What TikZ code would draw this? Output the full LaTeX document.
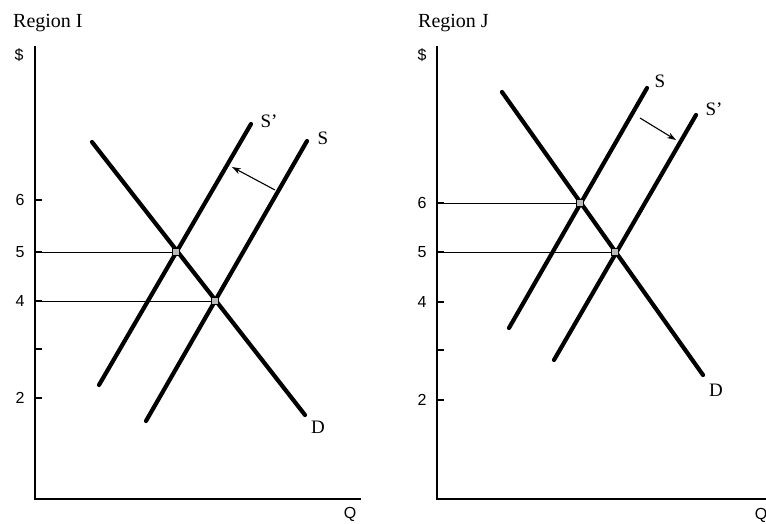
\documentclass[tikz,border=0pt]{standalone}
\usepackage{fontspec}
\usetikzlibrary{arrows.meta}
\setmainfont{Liberation Serif}
\newfontfamily\axfont{Liberation Sans}
\begin{document}
\begin{tikzpicture}[x=1pt,y=-1pt,
  curve/.style={line width=4.2pt,line cap=round},
  axis/.style={line width=1.8pt},
  guide/.style={line width=1pt},
  tickmark/.style={line width=1.3pt},
  shiftarrow/.style={line width=1.1pt,-{Stealth[length=9pt,width=6pt]}},
  mk/.style={draw=black,line width=0.6pt,fill=gray!55,minimum size=7pt,inner sep=0pt},
  lbl/.style={font=\fontsize{19}{21}\selectfont,inner sep=0pt},
  num/.style={font=\axfont\fontsize{16}{18}\selectfont,inner sep=0pt},
  ttl/.style={font=\fontsize{20}{22}\selectfont,inner sep=0pt,anchor=west}]
\useasboundingbox (0,0) rectangle (766,524);
\fill[white] (0,0) rectangle (766,524);
% ---------------- Region I ----------------
\node[ttl] (tI) at (13,23) {Region I};
\node[num] (dI) at (19,55) {\$};
\coordinate (yIt) at (35,46);
\coordinate (o1) at (35,499);
\coordinate (xIe) at (361,499);
\draw[axis] (yIt) -- (o1) -- (xIe);
\node[num] (qI) at (350,514) {Q};
\foreach \v/\y in {6/200,5/252,4/301,2/398}{
  \draw[tickmark] (35,\y) -- (42,\y);
  \node[num] at (20,\y) {\v};}
\draw[tickmark] (35,349) -- (42,349);
% equilibria
\coordinate (eIa) at (176,252);
\coordinate (eIb) at (215,301);
\draw[guide] (35,252) -- (eIa);
\draw[guide] (35,301) -- (eIb);
% curves
\coordinate (DIa) at (92,142); \coordinate (DIb) at (305,415);
\coordinate (SpIa) at (99,385); \coordinate (SpIb) at (251,124);
\coordinate (SIa) at (146,421); \coordinate (SIb) at (307,141);
\draw[curve] (DIa) -- (DIb);
\draw[curve] (SpIa) -- (SpIb);
\draw[curve] (SIa) -- (SIb);
\node[mk] at (eIa) {};
\node[mk] at (eIb) {};
\node[lbl] (lDI) at (318,427) {D};
\node[lbl] (lSpI) at (269,121) {S'};
\node[lbl] (lSI) at (323,138) {S};
\coordinate (aI1) at (275,190); \coordinate (aI2) at (232,167);
\draw[shiftarrow] (aI1) -- (aI2);
% ---------------- Region J ----------------
\node[ttl] (tJ) at (418,23) {Region J};
\node[num] (dJ) at (422,55) {\$};
\coordinate (yJt) at (437,46);
\coordinate (o2) at (437,499);
\coordinate (xJe) at (770,499);
\draw[axis] (yJt) -- (o2) -- (xJe);
\node[num] (qJ) at (761,515) {Q};
\foreach \v/\y in {6/203,5/252,4/302,2/400}{
  \draw[tickmark] (437,\y) -- (444,\y);
  \node[num] at (422,\y) {\v};}
\draw[tickmark] (437,350) -- (444,350);
\coordinate (eJa) at (580,203);
\coordinate (eJb) at (615,252);
\draw[guide] (437,203) -- (eJa);
\draw[guide] (437,252) -- (eJb);
\coordinate (DJa) at (502,92); \coordinate (DJb) at (703,375);
\coordinate (SJa) at (509,328); \coordinate (SJb) at (647,88);
\coordinate (SpJa) at (554,360); \coordinate (SpJb) at (696,115);
\draw[curve] (DJa) -- (DJb);
\draw[curve] (SJa) -- (SJb);
\draw[curve] (SpJa) -- (SpJb);
\node[mk] at (eJa) {};
\node[mk] at (eJb) {};
\node[lbl] (lDJ) at (716,390) {D};
\node[lbl] (lSJ) at (660,81) {S};
\node[lbl] (lSpJ) at (714,109) {S'};
\coordinate (aJ1) at (640,118); \coordinate (aJ2) at (676,140);
\draw[shiftarrow] (aJ1) -- (aJ2);
\end{tikzpicture}
\end{document}
